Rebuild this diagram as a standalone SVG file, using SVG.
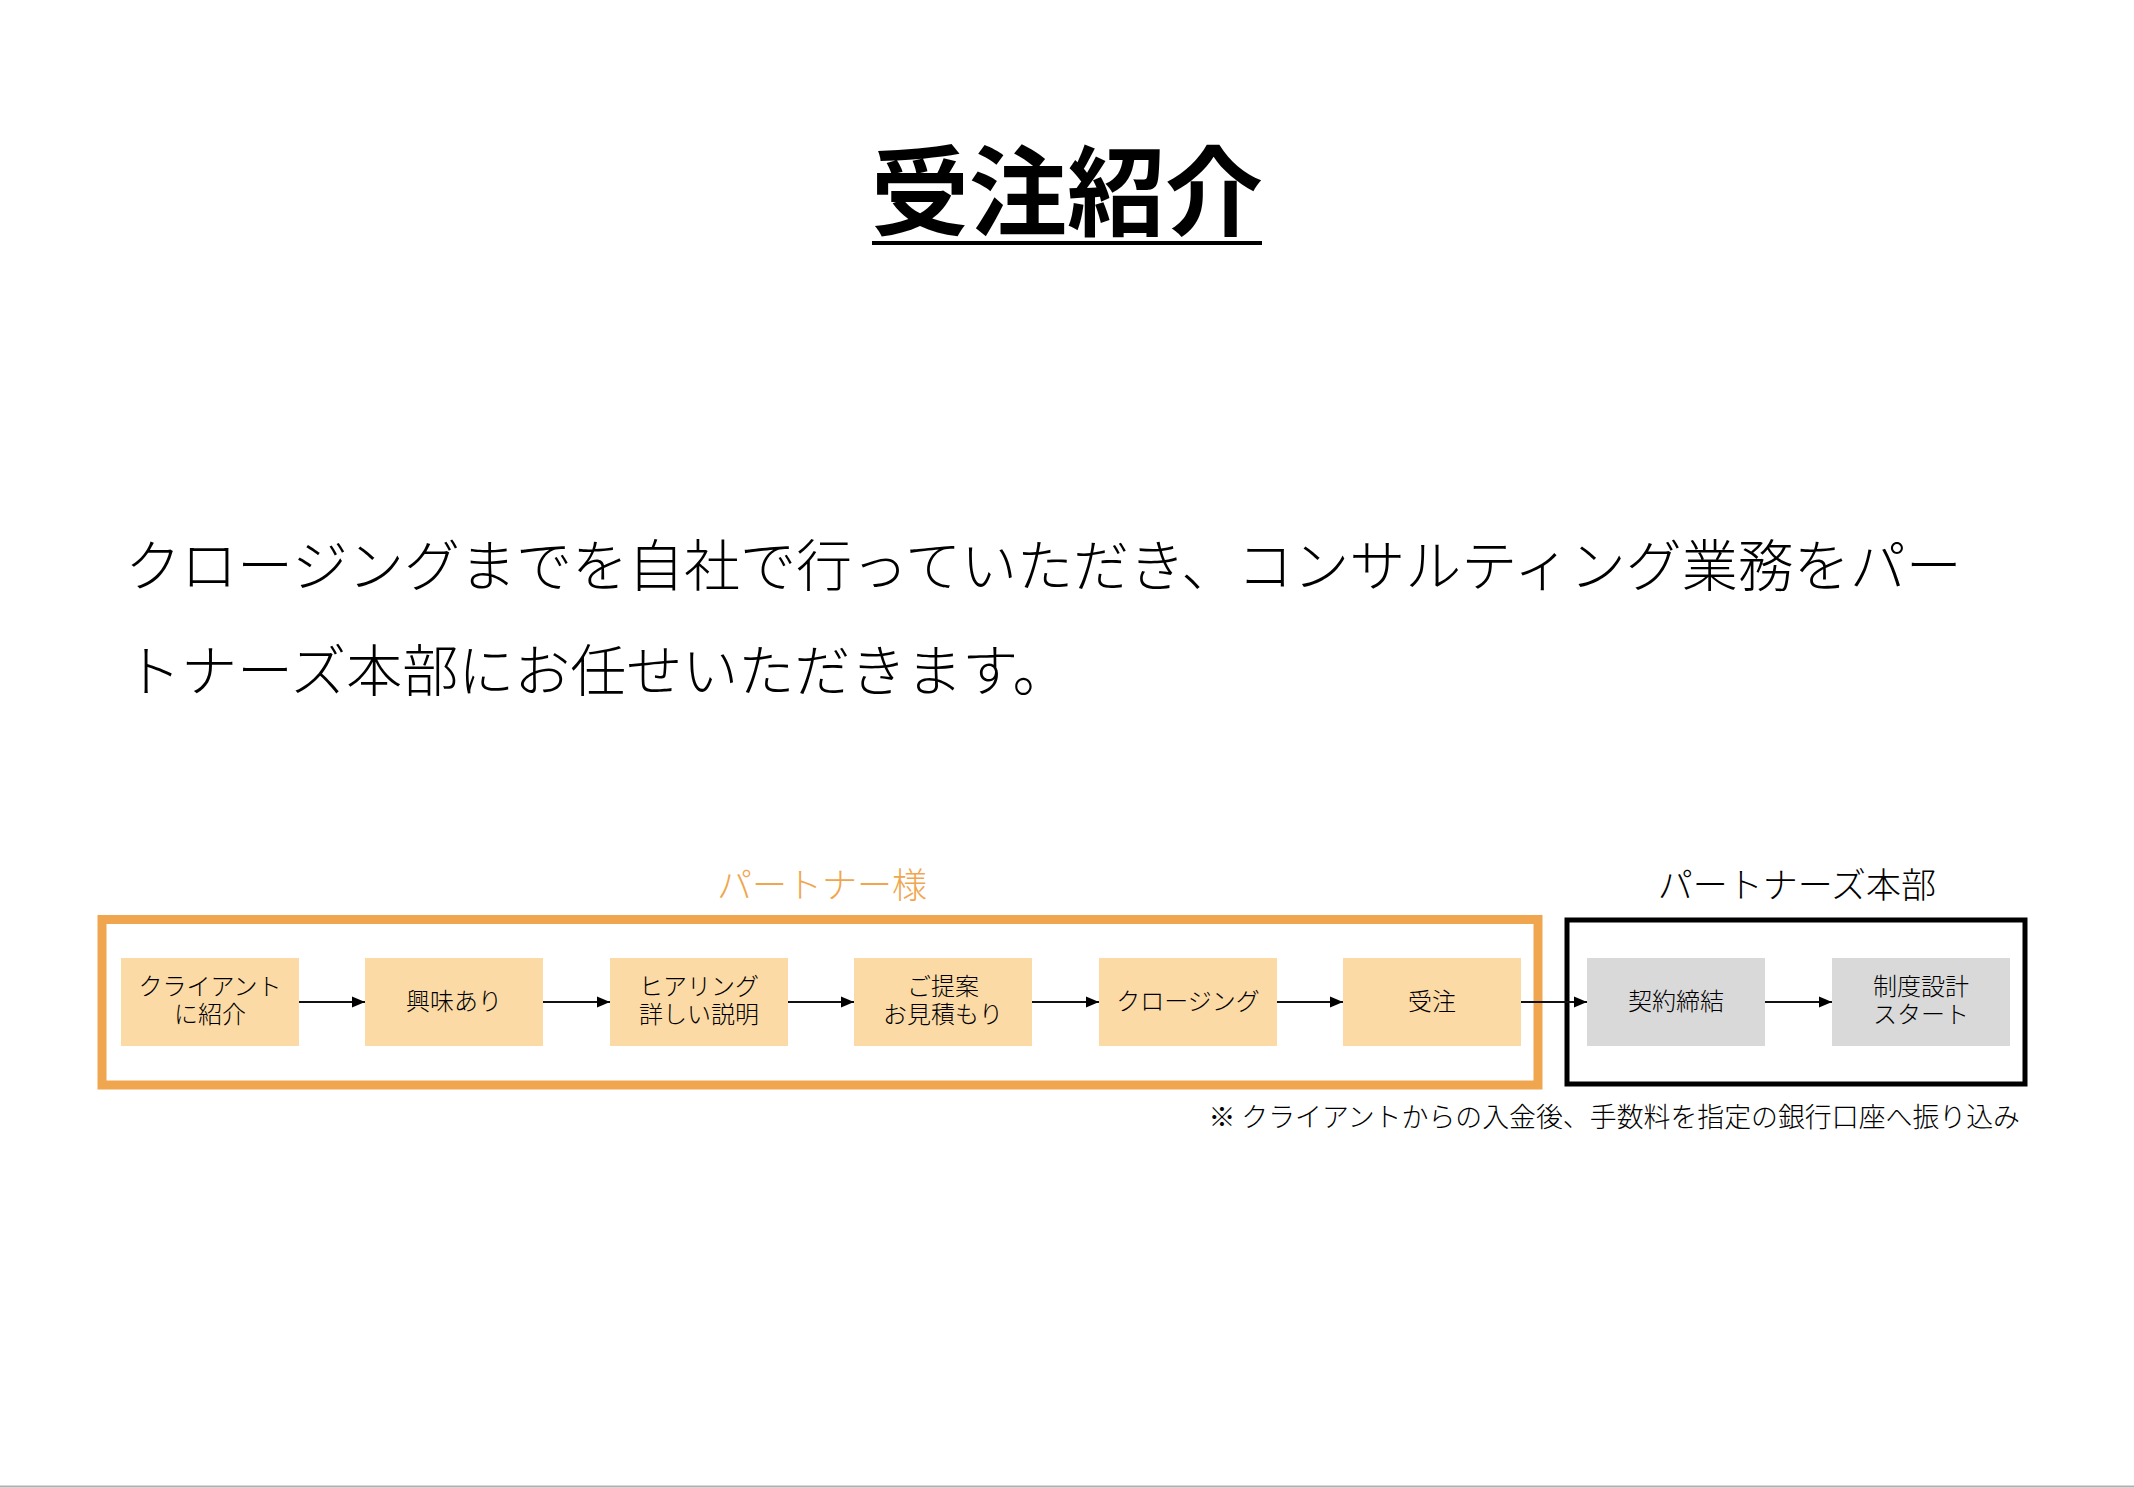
<svg xmlns="http://www.w3.org/2000/svg" width="2134" height="1488" viewBox="0 0 2134 1488">
<defs>
<style>
text{font-family:"Noto Sans CJK JP","Noto Sans CJK SC",sans-serif;}
.title{font-size:98px;font-weight:700;fill:#000;}
.body{font-size:56px;font-weight:300;fill:#000;}
.lbl{font-size:35px;font-weight:300;}
.bt{font-size:24px;font-weight:300;fill:#000;text-anchor:middle;}
.note{font-size:26.9px;font-weight:300;fill:#000;text-anchor:end;}
.ob{fill:#FCDAA6;}
.gb{fill:#D9D9D9;}
.conn{stroke:#111;stroke-width:2;fill:none;marker-end:url(#ah);}
</style>
<marker id="ah" markerWidth="14" markerHeight="12" refX="13" refY="6" orient="auto" markerUnits="userSpaceOnUse">
<path d="M0,0.5 L13,6 L0,11.5 Z" fill="#000"/>
</marker>
</defs>
<rect width="2134" height="1488" fill="#fff"/>
<g id="title">
<text class="title" x="1067" y="228" text-anchor="middle">受注紹介</text>
<rect x="872" y="241" width="390" height="4" fill="#000"/>
</g>
<g id="body">
<text class="body" x="125" y="586">クロージングまでを自社で行っていただき、コンサルティング業務をパー</text>
<text class="body" x="125" y="691">トナーズ本部にお任せいただきます。</text>
</g>
<g id="partner-group">
<text class="lbl" x="822" y="898" text-anchor="middle" fill="#F0A64E">パートナー様</text>
<rect x="102" y="919.5" width="1436" height="165.5" fill="none" stroke="#F0A64E" stroke-width="9"/>
</g>
<g id="hq-group">
<text class="lbl" x="1797" y="898" text-anchor="middle" fill="#000">パートナーズ本部</text>
<rect x="1567" y="920" width="458" height="164" fill="none" stroke="#000" stroke-width="5"/>
</g>
<g id="n1"><rect class="ob" x="121" y="958" width="178" height="88"/><text class="bt" x="210" y="995">クライアント</text><text class="bt" x="210" y="1023">に紹介</text></g>
<g id="n2"><rect class="ob" x="365" y="958" width="178" height="88"/><text class="bt" x="454" y="1010">興味あり</text></g>
<g id="n3"><rect class="ob" x="610" y="958" width="178" height="88"/><text class="bt" x="699" y="995">ヒアリング</text><text class="bt" x="699" y="1023">詳しい説明</text></g>
<g id="n4"><rect class="ob" x="854" y="958" width="178" height="88"/><text class="bt" x="943" y="995">ご提案</text><text class="bt" x="943" y="1023">お見積もり</text></g>
<g id="n5"><rect class="ob" x="1099" y="958" width="178" height="88"/><text class="bt" x="1188" y="1010">クロージング</text></g>
<g id="n6"><rect class="ob" x="1343" y="958" width="178" height="88"/><text class="bt" x="1432" y="1010">受注</text></g>
<g id="n7"><rect class="gb" x="1587" y="958" width="178" height="88"/><text class="bt" x="1676" y="1010">契約締結</text></g>
<g id="n8"><rect class="gb" x="1832" y="958" width="178" height="88"/><text class="bt" x="1921" y="995">制度設計</text><text class="bt" x="1921" y="1023">スタート</text></g>
<g id="connectors">
<line class="conn" x1="299" y1="1002" x2="365" y2="1002"/>
<line class="conn" x1="543" y1="1002" x2="610" y2="1002"/>
<line class="conn" x1="788" y1="1002" x2="854" y2="1002"/>
<line class="conn" x1="1032" y1="1002" x2="1099" y2="1002"/>
<line class="conn" x1="1277" y1="1002" x2="1343" y2="1002"/>
<line class="conn" x1="1521" y1="1002" x2="1587" y2="1002"/>
<line class="conn" x1="1765" y1="1002" x2="1832" y2="1002"/>
</g>
<g id="note">
<text class="note" x="2020" y="1127">※ クライアントからの入金後、手数料を指定の銀行口座へ振り込み</text>
</g>
<line x1="0" y1="1486.5" x2="2134" y2="1486.5" stroke="#B0B0B0" stroke-width="2"/>
</svg>
